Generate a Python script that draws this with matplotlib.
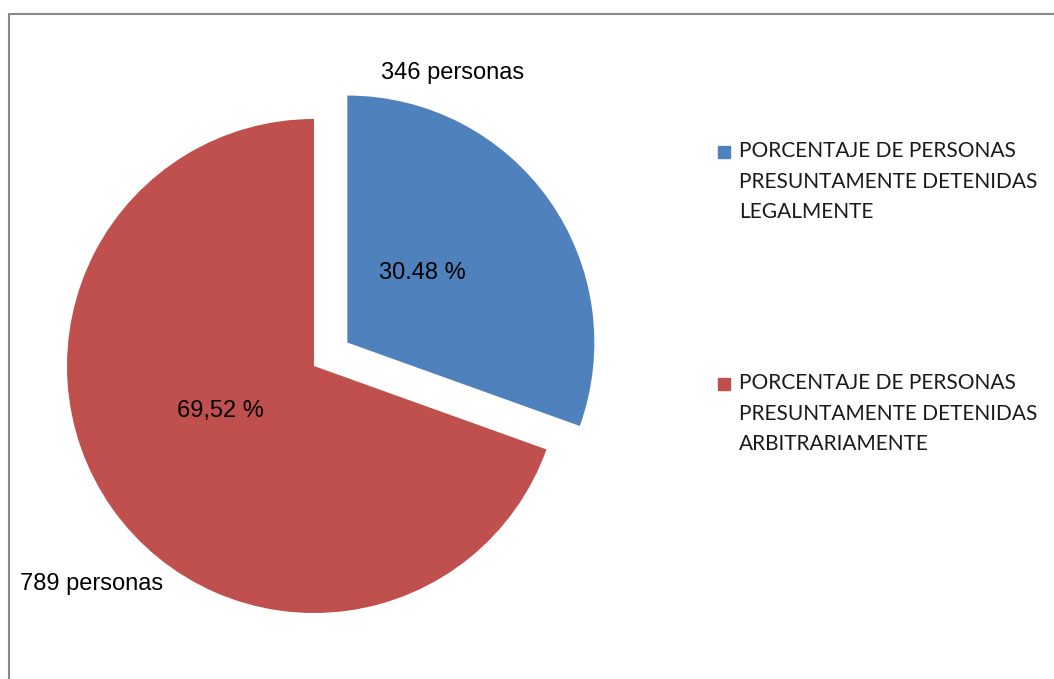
import matplotlib
matplotlib.use("Agg")
import matplotlib.pyplot as plt
from matplotlib.patches import Rectangle
import numpy as np

# Data
categories = [
    "PORCENTAJE DE PERSONAS\nPRESUNTAMENTE DETENIDAS\nLEGALMENTE",
    "PORCENTAJE DE PERSONAS\nPRESUNTAMENTE DETENIDAS\nARBITRARIAMENTE",
]
personas = [346, 789]
pct_labels = ["30.48 %", "69,52 %"]
count_labels = ["346 personas", "789 personas"]
colors = ["#4F81BD", "#C0504D"]

W, H = 1054, 679
fig = plt.figure(figsize=(W / 100, H / 100), dpi=100)

# pie axes: center ~ (314, 366) px, radius ~247 px
R, CX, CY = 247.0, 314.0, 366.0
ax = fig.add_axes([0, 0, 700 / W, 1])
ax.axis("off")

label_font = ["Liberation Sans Narrow", "Liberation Sans", "DejaVu Sans"]

wedges, texts = ax.pie(personas, colors=colors, startangle=90, counterclock=False,
                       explode=[0.165, 0], radius=1.0, center=(0, 0),
                       wedgeprops=dict(linewidth=0), frame=False)
ax.set_xlim(-CX / R, (700 - CX) / R)
ax.set_ylim((CY - H) / R, CY / R)
ax.set_aspect("auto")

# label positions relative to each wedge (in radius units)
pct_pos = [(0.415, 42.6), (0.42, 206)]
cnt_pos = [(1.17, 68.7), (1.26, 224.5)]
for w, pl, cl, (pd, pa), (cd, ca) in zip(wedges, pct_labels, count_labels, pct_pos, cnt_pos):
    cx, cy = w.center
    ax.text(cx + pd * np.cos(np.radians(pa)), cy + pd * np.sin(np.radians(pa)), pl,
            ha="center", va="center", fontsize=17, family=label_font)
    ax.text(cx + cd * np.cos(np.radians(ca)), cy + cd * np.sin(np.radians(ca)), cl,
            ha="center", va="center", fontsize=17, family=label_font)

# legend, drawn by hand so the marker sits on the first line
leg_y = [152, 384]
for lab, col, y in zip(categories, colors, leg_y):
    fig.add_artist(Rectangle((718 / W, 1 - (y + 6) / H), 12 / W, 12 / H,
                             transform=fig.transFigure, color=col))
    fig.text(739 / W, 1 - (y - 11) / H, lab, ha="left", va="top", fontsize=15,
             family=["Lato", "DejaVu Sans"], color="#1a1a1a", linespacing=1.66)

# chart frame
fig.add_artist(Rectangle((9 / W, -0.05), 1.2, 1 - 14 / H + 0.05, transform=fig.transFigure,
                         fill=False, edgecolor="#888888", linewidth=1.5))

fig.savefig("out.png", dpi=100)
